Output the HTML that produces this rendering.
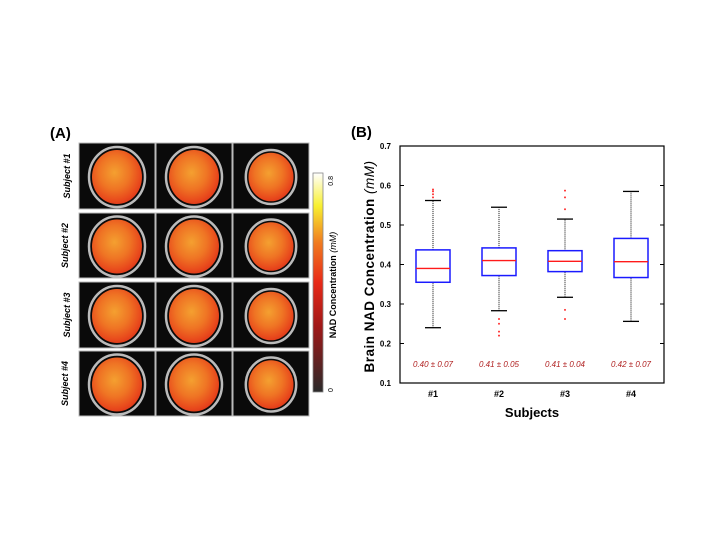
<!DOCTYPE html>
<html><head><meta charset="utf-8"><style>
body{margin:0;background:#fff;width:720px;height:540px;overflow:hidden;font-family:"Liberation Sans",sans-serif}
svg{position:absolute;left:0;top:0}
</style></head><body>
<svg width="720" height="540">
<defs>
<radialGradient id="brain" cx="45%" cy="42%" r="62%">
<stop offset="0" stop-color="#f4a030"/><stop offset="0.5" stop-color="#ef7424"/><stop offset="0.85" stop-color="#e8481c"/><stop offset="1" stop-color="#dc361a"/></radialGradient>
<linearGradient id="cbar" x1="0" y1="1" x2="0" y2="0">
<stop offset="0" stop-color="#2a2a2a"/><stop offset="0.3" stop-color="#a01818"/><stop offset="0.5" stop-color="#e82a18"/><stop offset="0.68" stop-color="#f07a20"/><stop offset="0.85" stop-color="#f8f030"/><stop offset="1" stop-color="#ffffff"/></linearGradient>
</defs>
<text x="50" y="138" font-size="15" font-weight="bold">(A)</text>
<g id="tiles"></g>
<rect x="313" y="173" width="10" height="219" fill="url(#cbar)" stroke="#888" stroke-width="0.8"/>
<text transform="translate(333,176) rotate(-90)" font-size="7" text-anchor="end">0.8</text>
<text transform="translate(333,392) rotate(-90)" font-size="7" text-anchor="start">0</text>
<text transform="translate(336,285) rotate(-90)" font-size="9" font-weight="bold" text-anchor="middle">NAD Concentration <tspan font-style="italic" font-weight="normal">(mM)</tspan></text>
<text x="351" y="137" font-size="15" font-weight="bold">(B)</text>
<g id="chart"></g>
</svg>
<script>
const categories=["#1","#2","#3","#4"];
const whiskerLow=[0.24,0.283,0.317,0.256];
const q1=[0.355,0.372,0.382,0.367];
const median=[0.39,0.41,0.408,0.407];
const q3=[0.437,0.442,0.435,0.466];
const whiskerHigh=[0.562,0.545,0.515,0.585];
const outliers=[[0.57,0.578,0.585,0.59],[0.262,0.25,0.23,0.22],[0.54,0.57,0.587,0.285,0.262],[]];
const stats=["0.40 ± 0.07","0.41 ± 0.05","0.41 ± 0.04","0.42 ± 0.07"];
const yTicks=[0.1,0.2,0.3,0.4,0.5,0.6,0.7];
const rowLabels=["Subject #1","Subject #2","Subject #3","Subject #4"];
const NS="http://www.w3.org/2000/svg";
function mk(t,a,p){const e=document.createElementNS(NS,t);for(const k in a)e.setAttribute(k,a[k]);p.appendChild(e);return e;}
const tg=document.getElementById('tiles');
const rowsY=[[143,209],[213,278],[282,348],[351,416]],colsX=[[79,155],[156,232],[233,309]];
rowsY.forEach((r,i)=>{
 const lt=mk('text',{transform:`translate(${i%2?68:70},${(r[0]+r[1])/2}) rotate(-90)`,'font-size':9,'font-weight':'bold','font-style':'italic','text-anchor':'middle'},tg);
 lt.textContent=rowLabels[i];
 
 
 colsX.forEach((c,j)=>{
  const g=mk('g',{},tg);
  
  
  mk('rect',{x:c[0],y:r[0],width:c[1]-c[0],height:r[1]-r[0],fill:'#0a0a0a',stroke:'#bbb','stroke-width':1},g);
  const cx=(c[0]+c[1])/2,cy=(r[0]+r[1])/2+1,sc=j==2?0.9:1;
  mk('ellipse',{cx,cy,rx:28*sc,ry:30*sc,fill:'none',stroke:'#bbb','stroke-width':2.5},g);
  mk('ellipse',{cx,cy:cy,rx:25*sc,ry:27*sc,fill:'url(#brain)'},g);
 });
});
const cg=document.getElementById('chart');
const L=400,R=664,T=146,B=383;
const y=v=>B-(v-0.1)/0.6*(B-T);
const x=i=>L+(R-L)*(i+0.5)/4;
mk('rect',{x:L,y:T,width:R-L,height:B-T,fill:'none',stroke:'#000','stroke-width':1.2},cg);
yTicks.forEach(t=>{
 mk('line',{x1:L,x2:L+4,y1:y(t),y2:y(t),stroke:'#000'},cg);
 mk('line',{x1:R-4,x2:R,y1:y(t),y2:y(t),stroke:'#000'},cg);
 const tx=mk('text',{x:L-9,y:y(t)+3,'font-size':8,'font-weight':'bold','text-anchor':'end'},cg);
 tx.textContent=t.toFixed(1);
 
 
});
categories.forEach((c,i)=>{
 const cx=x(i),hw=17;
 const g=mk('g',{},cg);
 
 
 mk('line',{x1:cx,x2:cx,y1:y(whiskerLow[i]),y2:y(q1[i]),stroke:'#333','stroke-width':1.2,'stroke-dasharray':'1 1'},g);
 mk('line',{x1:cx,x2:cx,y1:y(q3[i]),y2:y(whiskerHigh[i]),stroke:'#333','stroke-width':1.2,'stroke-dasharray':'1 1'},g);
 mk('line',{x1:cx-8,x2:cx+8,y1:y(whiskerLow[i]),y2:y(whiskerLow[i]),stroke:'#000','stroke-width':1.3},g);
 mk('line',{x1:cx-8,x2:cx+8,y1:y(whiskerHigh[i]),y2:y(whiskerHigh[i]),stroke:'#000','stroke-width':1.3},g);
 mk('rect',{x:cx-hw,y:y(q3[i]),width:2*hw,height:y(q1[i])-y(q3[i]),fill:'#fff',stroke:'#1a1aff','stroke-width':1.5},g);
 mk('line',{x1:cx-hw,x2:cx+hw,y1:y(median[i]),y2:y(median[i]),stroke:'#ff1a1a','stroke-width':1.4},g);
 outliers[i].forEach(o=>{const d=mk('circle',{cx,cy:y(o),r:1,fill:'#ff3030'},g);
  
  });
 const st=mk('text',{x:cx,y:367,'font-size':8,'font-style':'italic','fill':'#b02020','text-anchor':'middle'},cg);
 st.textContent=stats[i];
 
 
 const xl=mk('text',{x:cx,y:397,'font-size':9,'font-weight':'bold','text-anchor':'middle'},cg);
 xl.textContent=c;
 
 
});
const xt=mk('text',{x:(L+R)/2,y:417,'font-size':13,'font-weight':'bold','text-anchor':'middle'},cg);
xt.textContent='Subjects';


const yt=mk('text',{transform:`translate(374,${(T+B)/2+2}) rotate(-90)`,'font-size':13.5,'font-weight':'bold','text-anchor':'middle','letter-spacing':'0.5'},cg);
yt.innerHTML='Brain NAD Concentration <tspan font-style="italic" font-weight="normal">(mM)</tspan>';


</script>
</body></html>
